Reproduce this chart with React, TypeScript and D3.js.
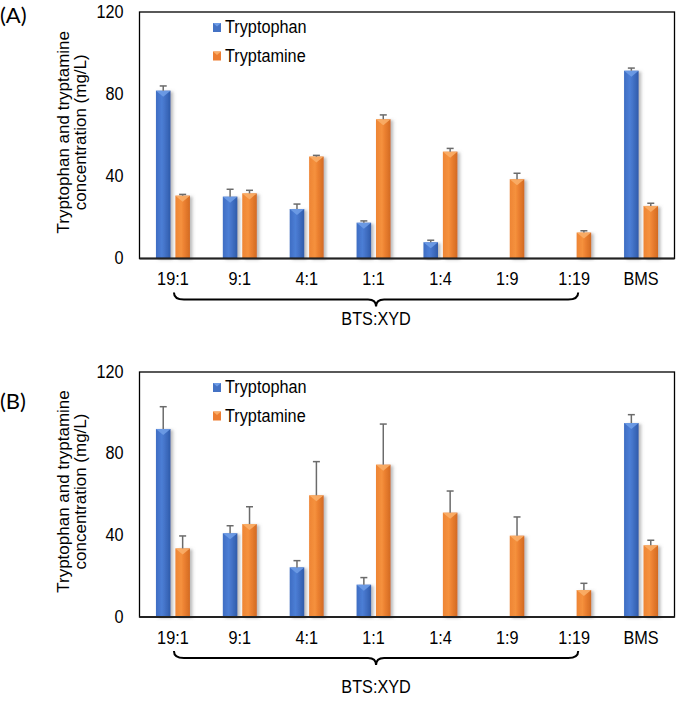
import React from "react";
import * as d3 from "d3";

const categories = ["19:1", "9:1", "4:1", "1:1", "1:4", "1:9", "1:19", "BMS"];
const seriesNames = ["Tryptophan", "Tryptamine"];
const yTicks = [0, 40, 80, 120];

// Panel A
const tryptophanA = [81.7, 30.1, 24.1, 17.4, 7.9, 0, 0, 91.4];
const tryptophanAErr = [2.3, 3.6, 2.4, 0.9, 1.0, 0, 0, 1.3];
const tryptamineA = [30.6, 31.7, 49.6, 67.8, 52.0, 38.6, 12.6, 25.6];
const tryptamineAErr = [0.6, 1.5, 0.6, 2.1, 1.6, 2.9, 0.9, 1.3];

// Panel B
const tryptophanB = [92.1, 41.0, 24.3, 15.8, 0, 0, 0, 95.0];
const tryptophanBErr = [10.9, 3.7, 3.3, 3.5, 0, 0, 0, 4.1];
const tryptamineB = [33.6, 45.5, 59.6, 74.6, 51.1, 39.8, 13.2, 35.1];
const tryptamineBErr = [6.1, 8.5, 16.5, 19.9, 10.6, 9.2, 3.3, 2.5];

const panelLabels = ["(A)", "(B)"];
const groupLabel = "BTS:XYD";
const yTitle1 = "Tryptophan and tryptamine";
const yTitle2 = "concentration (mg/L)";

const W = 685;
const H = 705;
const FONT = "'Liberation Sans', Arial, sans-serif";

const colors = {
  Tryptophan: { fill: "url(#gBlue)", tri: "#6E9CE6", swatch: "#4472C4" },
  Tryptamine: { fill: "url(#gOrange)", tri: "#FAAE68", swatch: "#ED7D31" },
};

type TProps = {
  x: number;
  y: number;
  anchor?: "start" | "middle" | "end";
  children: React.ReactNode;
};

// text slightly taller than wide, as in the reference
function T({ x, y, anchor = "start", children }: TProps) {
  return (
    <text
      transform={`translate(${x},${y}) scale(0.93,1)`}
      textAnchor={anchor}
      dominantBaseline="central"
      fontFamily={FONT}
      fontSize={17.5}
      fill="#000"
    >
      {children}
    </text>
  );
}

type PanelProps = {
  top: number;
  bottom: number;
  label: string;
  labelY: number;
  groupY: number;
  values: number[][];
  errs: number[][];
};

function Panel({ top, bottom, label, labelY, groupY, values, errs }: PanelProps) {
  const left = 139.5;
  const right = 674.5;
  const x0 = d3.scaleBand<string>().domain(categories).range([left, right]).padding(0);
  const x1 = d3.scaleBand<string>().domain(seriesNames).range([-17, 17]).paddingInner(0.25);
  const y = d3.scaleLinear().domain([0, 120]).range([bottom, top]);
  const bw = x1.bandwidth();

  const cx = (c: string) => (x0(c) as number) + x0.bandwidth() / 2;
  const bx0 = cx(categories[0]) + 1;
  const bx1 = cx(categories[6]) + 4;
  const mid = (bx0 + bx1) / 2;
  const yE = bottom + 34;
  const yH = bottom + 41;
  const yP = bottom + 48;
  const brace = `M${bx0},${yE} Q${bx0},${yH} ${bx0 + 10},${yH} L${mid - 8},${yH} Q${mid},${yH} ${mid},${yP} Q${mid},${yH} ${mid + 8},${yH} L${bx1 - 10},${yH} Q${bx1},${yH} ${bx1},${yE}`;

  const titleCy = (top + bottom) / 2 - 3;

  return (
    <g>
      <text x={0} y={labelY} fontFamily="Lato, 'Open Sans', sans-serif" fontSize={22} fill="#000">
        {label}
      </text>
      {/* y axis title */}
      <g transform={`translate(69,${titleCy}) rotate(-90)`}>
        <text x={0} y={0} textAnchor="middle" fontFamily={FONT} fontSize={17} fill="#000">
          {yTitle1}
        </text>
        <text x={0} y={17} textAnchor="middle" fontFamily={FONT} fontSize={17} fill="#000">
          {yTitle2}
        </text>
      </g>
      {/* y tick labels */}
      {yTicks.map((t) => (
        <T key={t} x={123.5} y={y(t)} anchor="end">
          {t}
        </T>
      ))}
      {/* bars */}
      {seriesNames.map((s, si) =>
        categories.map((c, ci) => {
          const v = values[si][ci];
          if (!v) return null;
          const bx = cx(c) + (x1(s) as number);
          const by = y(v);
          const h = bottom - by;
          const col = colors[s as keyof typeof colors];
          return (
            <g key={s + c}>
              <rect x={bx} y={by} width={bw} height={h} fill={col.fill} filter="url(#shadow)" />
              <polygon
                points={`${bx},${by} ${bx + bw},${by} ${bx + bw / 2},${by + 6}`}
                fill={col.tri}
                opacity={0.9}
              />
            </g>
          );
        })
      )}
      {/* error bars */}
      {seriesNames.map((s, si) =>
        categories.map((c, ci) => {
          const v = values[si][ci];
          const e = errs[si][ci];
          if (!v || !e) return null;
          const ex = cx(c) + (x1(s) as number) + bw / 2;
          return (
            <g key={"e" + s + c} stroke="#6b6b6b" strokeWidth={1.5}>
              <line x1={ex} x2={ex} y1={y(v)} y2={y(v + e)} />
              <line x1={ex - 3.5} x2={ex + 3.5} y1={y(v + e)} y2={y(v + e)} />
            </g>
          );
        })
      )}
      {/* frame */}
      <rect x={left} y={top} width={right - left} height={bottom - top} fill="none" stroke="#000" strokeWidth={1.3} />
      <line x1={left} x2={right} y1={bottom} y2={bottom} stroke="#222" strokeWidth={2} />
      {/* legend */}
      {seriesNames.map((s, i) => {
        const ly = top + 15.5 + i * 28.5;
        const col = colors[s as keyof typeof colors];
        return (
          <g key={"l" + s}>
            <rect x={213} y={ly - 4.5} width={8} height={9} fill={col.swatch} />
            <polygon points={`${213},${ly - 4.5} ${221},${ly - 4.5} ${217},${ly - 1}`} fill={col.tri} />
            <T x={225} y={ly}>
              {s}
            </T>
          </g>
        );
      })}
      {/* x tick labels */}
      {categories.map((c) => (
        <T key={"x" + c} x={cx(c)} y={bottom + 21} anchor="middle">
          {c}
        </T>
      ))}
      <path d={brace} fill="none" stroke="#000" strokeWidth={2} />
      <T x={mid} y={groupY} anchor="middle">
        {groupLabel}
      </T>
    </g>
  );
}

export default function App() {
  return (
    <svg
      width={W}
      height={H}
      viewBox={`0 0 ${W} ${H}`}
      style={{ position: "absolute", left: 0, top: 0, background: "#fff" }}
    >
      <defs>
        <linearGradient id="gBlue" x1="0" x2="1" y1="0" y2="0">
          <stop offset="0" stopColor="#3E6DC3" />
          <stop offset="0.4" stopColor="#4C7ED5" />
          <stop offset="0.6" stopColor="#4473C8" />
          <stop offset="1" stopColor="#2F5BAA" />
        </linearGradient>
        <linearGradient id="gOrange" x1="0" x2="1" y1="0" y2="0">
          <stop offset="0" stopColor="#EE8535" />
          <stop offset="0.4" stopColor="#F5913D" />
          <stop offset="0.6" stopColor="#EC8131" />
          <stop offset="1" stopColor="#D26A22" />
        </linearGradient>
        <filter id="shadow" x="-30%" y="-5%" width="170%" height="115%">
          <feDropShadow dx={2.5} dy={1} stdDeviation={1.5} floodColor="#777" floodOpacity={0.5} />
        </filter>
      </defs>
      <rect x={0} y={0} width={W} height={H} fill="#fff" />
      <Panel
        top={12}
        bottom={258.5}
        label={panelLabels[0]}
        labelY={23}
        groupY={319}
        values={[tryptophanA, tryptamineA]}
        errs={[tryptophanAErr, tryptamineAErr]}
      />
      <Panel
        top={372}
        bottom={617}
        label={panelLabels[1]}
        labelY={409}
        groupY={687}
        values={[tryptophanB, tryptamineB]}
        errs={[tryptophanBErr, tryptamineBErr]}
      />
    </svg>
  );
}
